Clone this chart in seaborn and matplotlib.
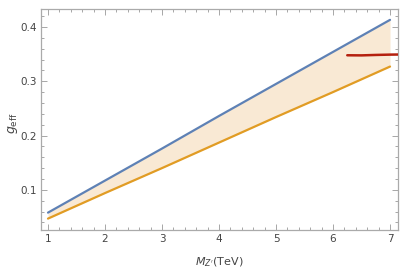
import matplotlib
matplotlib.use("Agg")
import matplotlib.pyplot as plt
import seaborn as sns
import pandas as pd
import numpy as np
from matplotlib.ticker import MultipleLocator

# Data
mass_tev = [1, 2, 3, 4, 5, 6, 7]
g_upper = [0.058, 0.117, 0.176, 0.236, 0.295, 0.354, 0.413]
g_lower = [0.047, 0.094, 0.140, 0.187, 0.234, 0.280, 0.327]
red_x = [6.25, 6.5, 6.75, 7.0, 7.15]
red_y = [0.3478, 0.3476, 0.3484, 0.3490, 0.3492]

sns.set_theme(style="white")
plt.rcParams['font.family'] = ['DejaVu Sans']

fig = plt.figure(figsize=(4.03, 2.73), dpi=100)
ax = fig.add_axes([0.1017, 0.1575, 0.8859, 0.8095])

df = pd.DataFrame({"m": mass_tev, "up": g_upper, "lo": g_lower})
ax.fill_between(df["m"], df["lo"], df["up"], color="#F9E9D4", lw=0, zorder=1)
sns.lineplot(data=df, x="m", y="up", color="#5E81B5", lw=1.6, ax=ax, zorder=3)
sns.lineplot(data=df, x="m", y="lo", color="#E19C24", lw=1.6, ax=ax, zorder=3)
rdf = pd.DataFrame({"x": red_x, "y": red_y})
sns.lineplot(data=rdf, x="x", y="y", color="#B5200E", lw=1.8, ax=ax, zorder=4)

ax.set_xlim(0.877, 7.14)
ax.set_ylim(0.026, 0.433)
ax.xaxis.set_minor_locator(MultipleLocator(0.2))
ax.yaxis.set_minor_locator(MultipleLocator(0.02))
ax.set_xticks(mass_tev)
ax.set_xticklabels([str(v) for v in mass_tev])
ax.set_yticks([0.1, 0.2, 0.3, 0.4])
ax.set_yticklabels(["0.1", "0.2", "0.3", "0.4"])

ax.tick_params(which="both", direction="in", top=True, right=True,
               bottom=True, left=True, color="#999999", width=0.6)
ax.tick_params(which="major", length=4, labelsize=7.5, labelcolor="#444444", pad=3)
ax.tick_params(which="minor", length=2)
for s in ax.spines.values():
    s.set_color("#AAAAAA")
    s.set_linewidth(0.9)

ax.set_xlabel("$M_{Z'}$(TeV)", fontsize=8, color="#444444", va="center")
ax.set_ylabel(r"$g_{\mathrm{eff}}$", fontsize=9, color="#444444", va="center")
ax.xaxis.set_label_coords(0.50, -0.145)
ax.yaxis.set_label_coords(-0.078, 0.484)

fig.savefig("out.png", dpi=100)
